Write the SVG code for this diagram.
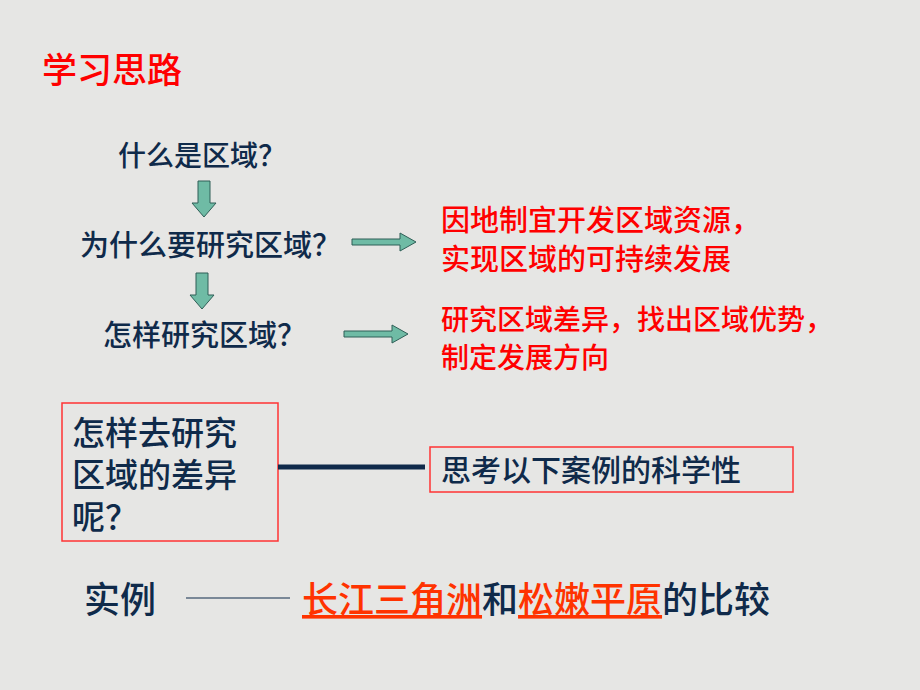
<svg xmlns="http://www.w3.org/2000/svg" width="920" height="690" viewBox="0 0 920 690">
<style>
text{font-family:"Noto Sans CJK SC","Liberation Sans",sans-serif;font-weight:500}
.t{fill:#0f2a4a}
.r{fill:#ff0000}
.o{fill:#ff3300}
.arr{fill:#6fbba5;stroke:#2f5f57;stroke-width:1}
.box{fill:none;stroke:#ff3333;stroke-width:1.5}
</style>
<rect width="920" height="690" fill="#e6e6e4"/>
<g id="title"><text class="r" x="42" y="83" font-size="35">学习思路</text></g>
<g id="q1"><text class="t" x="118" y="166" font-size="28">什么是区域？</text></g>
<g id="q2"><text class="t" x="80" y="256" font-size="29">为什么要研究区域？</text></g>
<g id="q3"><text class="t" x="103" y="346" font-size="29">怎样研究区域？</text></g>
<g id="a1"><text class="r" x="441" y="231" font-size="29">因地制宜开发区域资源，</text><text class="r" x="441" y="270" font-size="29">实现区域的可持续发展</text></g>
<g id="a2"><text class="r" x="441" y="330" font-size="28">研究区域差异，找出区域优势，</text><text class="r" x="441" y="368" font-size="28">制定发展方向</text></g>
<g id="box1"><rect class="box" x="62" y="403" width="216" height="138"/><text class="t" x="72" y="445" font-size="33">怎样去研究</text><text class="t" x="72" y="487" font-size="33">区域的差异</text><text class="t" x="72" y="529" font-size="33">呢？</text></g>
<g id="box2"><rect class="box" x="430" y="447" width="363" height="45"/><text class="t" x="441" y="481" font-size="30">思考以下案例的科学性</text></g>
<g id="example"><text class="t" x="84" y="613" font-size="36">实例</text>
<text x="302" y="613" font-size="36"><tspan class="o" text-decoration="underline">长江三角洲</tspan><tspan class="t">和</tspan><tspan class="o" text-decoration="underline">松嫩平原</tspan><tspan class="t">的比较</tspan></text></g>
<g id="connectors">
<path class="arr" d="M198,181 h12 v22 h6 l-12,14 l-12,-14 h6 z"/>
<path class="arr" d="M196,273 h12 v22 h6 l-12,14 l-12,-14 h6 z"/>
<path class="arr" d="M352,239 h48 v-6 l16,9 l-16,9 v-6 h-48 z"/>
<path class="arr" d="M344,331 h48 v-6 l16,9 l-16,9 v-6 h-48 z"/>
<line x1="278" y1="467" x2="425" y2="467" stroke="#0f2a4a" stroke-width="5"/>
<line x1="186" y1="598" x2="290" y2="598" stroke="#0f2a4a" stroke-width="1"/>
</g>
</svg>
